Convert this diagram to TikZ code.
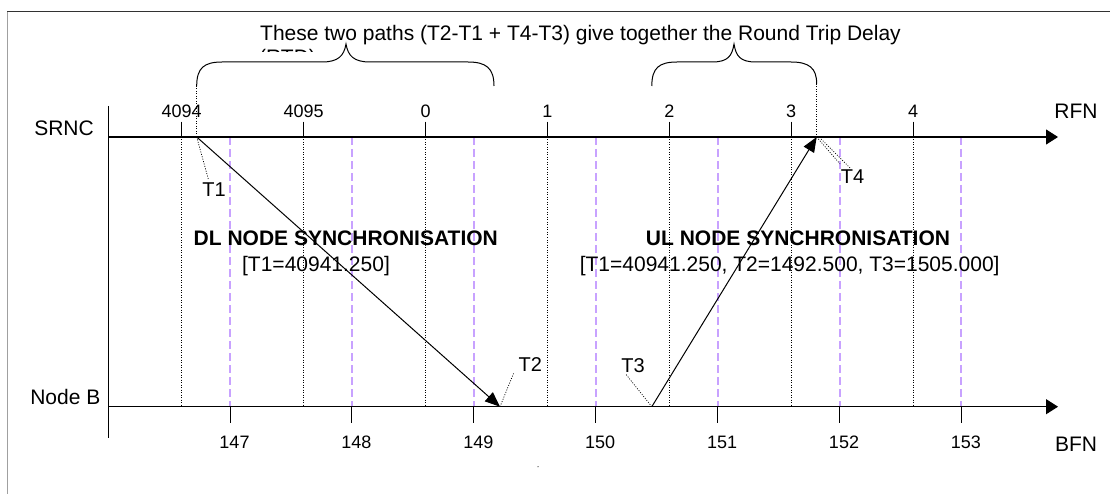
\documentclass[tikz,border=0pt]{standalone}
\usepackage{fontspec}
\setmainfont{Liberation Sans}
\usetikzlibrary{arrows.meta}
\definecolor{lav}{RGB}{200,162,255}
\definecolor{framedark}{RGB}{50,50,50}
\definecolor{framelight}{RGB}{160,160,160}
\begin{document}
\begin{tikzpicture}[x=1pt,y=-1pt,
  axis/.style={line width=1.1pt, -{Triangle[length=12pt,width=15pt]}},
  sig/.style={line width=1pt, -{Triangle[length=15pt,width=12pt]}},
  rfngrid/.style={black, line width=0.7pt, dash pattern=on 1pt off 1.5pt},
  bfngrid/.style={lav, line width=2pt, dash pattern=on 8pt off 4pt},
  tickmark/.style={line width=1pt},
  lbl/.style={font=\fontsize{21}{24}\selectfont, inner sep=0pt, anchor=base},
  bold/.style={font=\fontsize{21}{24}\selectfont\bfseries, inner sep=0pt, anchor=base},
  num/.style={font=\fontsize{18}{21}\selectfont, inner sep=0pt, anchor=base},
  tl/.style={font=\fontsize{20}{23}\selectfont, inner sep=0pt, anchor=base},
  callout/.style={line width=0.7pt, dash pattern=on 1pt off 1.5pt},
  bracepath/.style={line width=1pt}
]
\useasboundingbox (0,0) rectangle (1110,494);
% frame
\draw[framedark, line width=1pt] (7.3,11.7) -- (1112,11.7);
\draw[framelight, line width=1pt] (7.3,11.7) -- (7.3,496);

% grid lines
\foreach \k in {0,...,6} {
  \pgfmathsetmacro\xr{181.7+121.9*\k}
  \pgfmathsetmacro\xb{230+121.9*\k}
  \draw[rfngrid] (\xr,137) -- (\xr,405.5);
  \draw[bfngrid] (\xb,137) -- (\xb,406);
}

% axes
\coordinate (origin) at (108.3,106);
\coordinate (bottomend) at (108.3,438.3);
\coordinate (srncstart) at (108.3,137);
\coordinate (srncend) at (1058,137);
\coordinate (nbstart) at (108.3,406.7);
\coordinate (nbend) at (1058,406.7);
\draw[line width=1.1pt] (origin) -- (bottomend);
\draw[axis] (srncstart) -- (srncend);
\draw[axis] (nbstart) -- (nbend);

% ticks and numbers
\foreach \k/\lab in {0/4094,1/4095,2/0,3/1,4/2,5/3,6/4} {
  \pgfmathsetmacro\xr{181.7+121.9*\k}
  \draw[tickmark] (\xr,121.7) -- (\xr,137);
  \node[num] (rfn\k) at (\xr,117.5) {\lab};
}
\foreach \k/\lab in {0/147,1/148,2/149,3/150,4/151,5/152,6/153} {
  \pgfmathsetmacro\xb{230+121.9*\k}
  \draw[tickmark] (\xb,406.7) -- (\xb,422.5);
  \node[num] (bfn\k) at (\xb+4.5,448.3) {\lab};
}

% axis labels
\node[lbl, anchor=base east] (srnc) at (94,135.5) {SRNC};
\node[lbl, anchor=base east] (nodeb) at (100.5,404) {Node B};
\node[lbl] (rfn) at (1076,119) {RFN};
\node[lbl] (bfn) at (1076,451.5) {BFN};

% top text
\node[lbl] (rtdtext) at (580.5,40.5) {These two paths (T2-T1 + T4-T3) give together the Round Trip Delay};
\begin{scope}
  \clip (250,44) rectangle (330,52);
  \node[lbl, anchor=base west] (rtdpart) at (259,64.3) {(RTD)};
\end{scope}

% braces
\draw[bracepath] (196.7,86) .. controls (196.7,68) and (204,62) .. (222,62) -- (322,62)
  .. controls (338,62) and (344,56) .. (346,44)
  .. controls (348,56) and (354,62) .. (370,62) -- (468,62)
  .. controls (486,62) and (494,68) .. (494,86);
\draw[bracepath] (651.8,86) .. controls (651.8,68) and (659,62) .. (677,62) -- (712,62)
  .. controls (728,62) and (732,56) .. (734,44)
  .. controls (736,56) and (740,62) .. (756,62) -- (791,62)
  .. controls (809,62) and (816.7,68) .. (816.7,84);

% signal points
\coordinate (p1) at (196.7,137);
\coordinate (p2) at (500,406.7);
\coordinate (p3) at (651.8,406.7);
\coordinate (p4) at (816.7,137);
\coordinate (b1) at (196.7,86);
\coordinate (b2) at (816.7,84);
\draw[callout] (b1) -- (p1);
\draw[callout] (b2) -- (p4);

% section texts
\node[bold] (dl) at (345.8,246) {DL NODE SYNCHRONISATION};
\node[lbl] (dlval) at (316,272) {[T1=40941.250]};
\node[bold] (ul) at (798,246) {UL NODE SYNCHRONISATION};
\node[lbl] (ulval) at (789.7,272) {[T1=40941.250, T2=1492.500, T3=1505.000]};

% T labels
\node[tl] (t1) at (214,196.7) {T1};
\node[tl, anchor=base west] (t2) at (518.5,371.5) {T2};
\node[tl] (t3) at (633,372.3) {T3};
\node[tl] (t4) at (852.5,184) {T4};
\coordinate (c1) at (208.3,179);
\coordinate (c2) at (513.5,373.5);
\coordinate (c3) at (625.7,374);
\coordinate (c4a) at (840,164);
\coordinate (c4b) at (850,168);
\coordinate (p4b) at (821,139);
\draw[callout] (p1) -- (c1);
\draw[callout] (p2) -- (c2);
\draw[callout] (p3) -- (c3);
\draw[callout] (p4) -- (c4a);
\draw[callout] (p4b) -- (c4b);

% signals
\draw[sig] (p1) -- (p2);
\draw[sig] (p3) -- (p4);

% stray dot
\fill[black!70] (538,466.7) circle (0.7);
\end{tikzpicture}
\end{document}
